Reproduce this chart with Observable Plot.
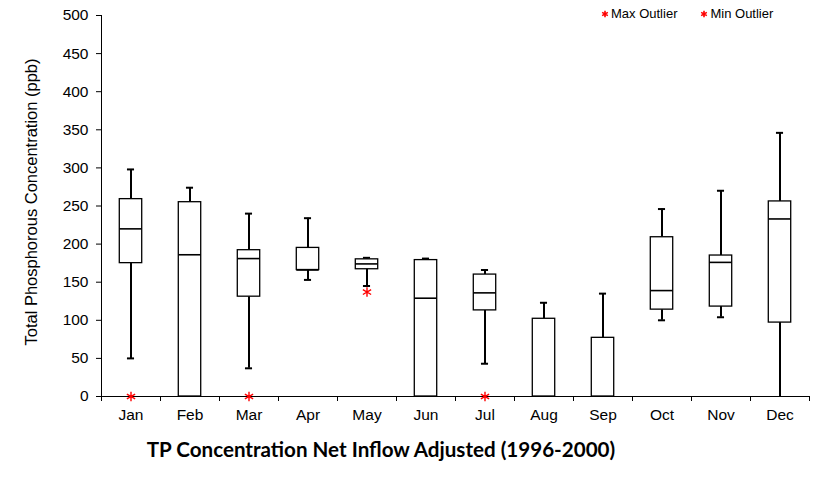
<!DOCTYPE html>
<html>
<head>
<meta charset="utf-8">
<script src="https://cdn.jsdelivr.net/npm/d3@7"></script>
<script src="https://cdn.jsdelivr.net/npm/@observablehq/plot@0.6"></script>
<style>
  html, body { margin: 0; padding: 0; background: #fff; }
  #wrap { position: relative; width: 835px; height: 477px; font-family: "Liberation Sans", Arial, sans-serif; }
  #chart { position: absolute; left: 0; top: 0; }
  #legend { position: absolute; top: 6px; left: 600px; font-size: 13px; color: #000; white-space: nowrap; }
  #legend .item { display: inline-flex; align-items: center; margin-right: 22px; }
  #legend svg { margin-right: 1px; }
  #title { position: absolute; left: 0; width: 762px; top: 437px; text-align: center; font-family: Lato, "Open Sans", sans-serif; font-weight: bold; font-size: 20.6px; color: #000; }
</style>
</head>
<body>
<div id="wrap">
  <div id="chart"></div>
  <div id="legend"></div>
  <div id="title">TP Concentration Net Inflow Adjusted (1996-2000)</div>
</div>
<script>
// ---- data ----
const months = ["Jan", "Feb", "Mar", "Apr", "May", "Jun", "Jul", "Aug", "Sep", "Oct", "Nov", "Dec"];
const whiskerLow  = [50, 0, 37, 153, 145, 0, 43, 0, 0, 100, 104, 0];
const q1          = [175, 0, 131, 166, 167, 0, 113, 0, 0, 114, 118, 97];
const median      = [220, 186, 181, 166, 174, 129, 136, 0, 0, 139, 176, 233];
const q3          = [259, 255, 192, 195, 180, 179, 160, 102, 77, 209, 185, 256];
const whiskerHigh = [298, 274, 240, 234, 182, 181, 166, 123, 135, 246, 270, 346];
const outlierMonth = ["Jan", "Mar", "May", "Jul"];
const outlierValue = [0, 0, 137, 0];
const yTicks = [0, 50, 100, 150, 200, 250, 300, 350, 400, 450, 500];
const legendLabels = ["Max Outlier", "Min Outlier"];
const yLabel = "Total Phosphorous Concentration (ppb)";

// ---- tables ----
const boxes = months.map((m, i) => ({
  month: m, lo: whiskerLow[i], q1: q1[i], med: median[i], q3: q3[i], hi: whiskerHigh[i]
}));
const outliers = outlierMonth.map((m, i) => ({month: m, value: outlierValue[i]}));

const W = 835, H = 432;
const marginLeft = 101, marginRight = 26, marginTop = 15, marginBottom = 36;
const bw = (W - marginLeft - marginRight) / months.length;
const boxInset = bw * 0.31;
const capInset = bw * 0.44;
const font = "Liberation Sans, Arial, sans-serif";

const chart = Plot.plot({
  width: W,
  height: H,
  marginLeft, marginRight, marginTop, marginBottom,
  style: {fontFamily: font, fontSize: "15px", color: "#000", background: "#fff"},
  x: {type: "band", domain: months, paddingInner: 0, paddingOuter: 0},
  y: {domain: [0, 500]},
  marks: [
    // axis lines
    Plot.ruleY([0], {stroke: "#000", strokeWidth: 1}),
    Plot.ruleX([months[0]], {dx: -bw / 2, stroke: "#000", strokeWidth: 1}),
    // y axis
    Plot.axisY({ticks: yTicks, tickSize: 5, tickPadding: 8, fontSize: 15.5, label: null, stroke: "#000"}),
    // x axis labels
    Plot.axisX({tickSize: 0, tickPadding: 12, fontSize: 15.5, label: null}),
    // x axis ticks at band boundaries
    Plot.axisX({tickSize: 5, tickFormat: () => "", label: null, dx: -bw / 2, stroke: "#000"}),
    Plot.axisX({ticks: [months[months.length - 1]], tickSize: 5, tickFormat: () => "", label: null, dx: bw / 2, stroke: "#000"}),
    // y label
    Plot.text([yLabel], {frameAnchor: "left", textAnchor: "middle", rotate: -90, dx: -70, dy: -4, fontSize: 16.5, fill: "#000"}),
    // whiskers
    Plot.ruleX(boxes, {x: "month", y1: "lo", y2: "q1", stroke: "#000", strokeWidth: 2}),
    Plot.ruleX(boxes, {x: "month", y1: "q3", y2: "hi", stroke: "#000", strokeWidth: 2}),
    Plot.tickY(boxes, {x: "month", y: "hi", stroke: "#000", strokeWidth: 2, insetLeft: capInset, insetRight: capInset}),
    Plot.tickY(boxes.filter(d => d.lo > 0), {x: "month", y: "lo", stroke: "#000", strokeWidth: 2, insetLeft: capInset, insetRight: capInset}),
    // boxes
    Plot.barY(boxes, {x: "month", y1: "q1", y2: "q3", fill: "#fff", stroke: "#000", strokeWidth: 1.3, insetLeft: boxInset, insetRight: boxInset}),
    Plot.tickY(boxes.filter(d => d.med > 0), {x: "month", y: "med", stroke: "#000", strokeWidth: 1.6, insetLeft: boxInset, insetRight: boxInset}),
    // outliers
    Plot.dot(outliers, {x: "month", y: "value", symbol: "asterisk", r: 4.5, stroke: "#ff0000", strokeWidth: 1.4})
  ]
});
document.getElementById("chart").appendChild(chart);

// ---- legend ----
const legend = d3.select("#legend");
legendLabels.forEach(lab => {
  const item = legend.append("span").attr("class", "item");
  const s = item.append("svg").attr("width", 10).attr("height", 10);
  s.append("path")
    .attr("transform", "translate(5,5)")
    .attr("d", d3.symbol(d3.symbolAsterisk, 30)())
    .attr("stroke", "#ff0000").attr("stroke-width", 1.6).attr("fill", "none");
  item.append("span").text(lab);
});
</script>
</body>
</html>
